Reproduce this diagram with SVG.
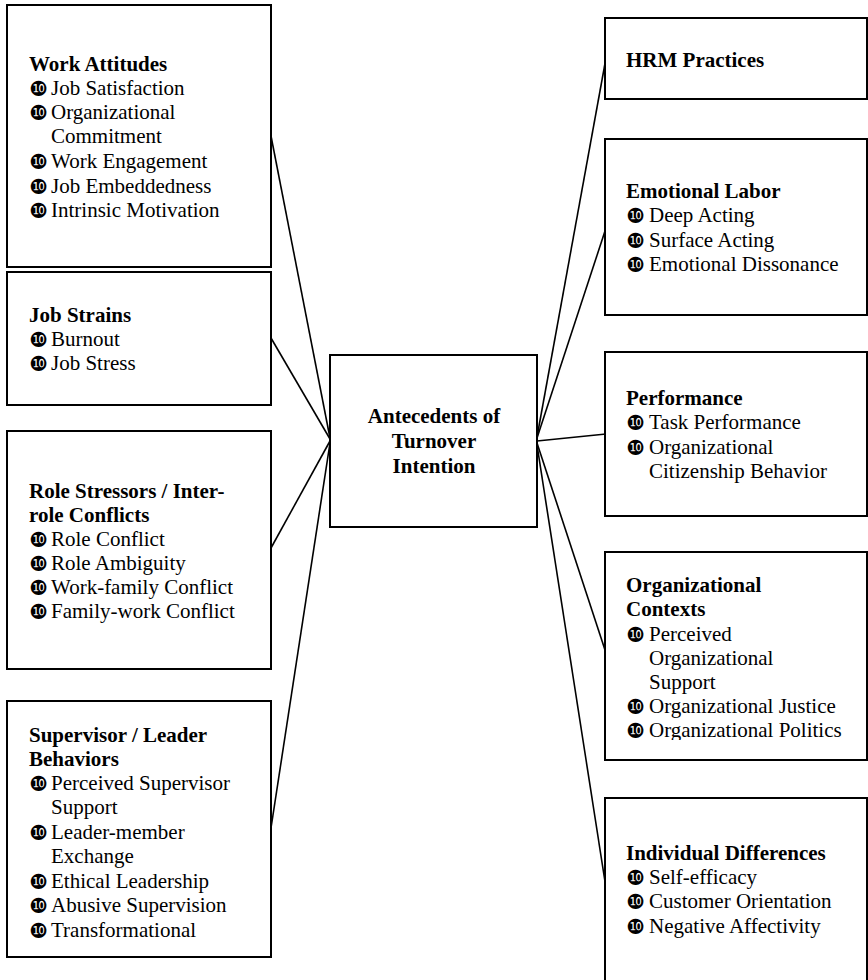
<svg xmlns="http://www.w3.org/2000/svg" width="868" height="980" viewBox="0 0 868 980">
<style>
.box{fill:#fff;stroke:#000;stroke-width:2}
.edge{stroke:#000;stroke-width:1.6;fill:none}
text{font-family:"Liberation Serif","Times New Roman",serif;font-size:21px;fill:#000}
.t{font-weight:bold}
.b{font-family:"DejaVu Sans",sans-serif;font-size:21px}
</style>
<defs>
<clipPath id="clipOC"><rect x="600" y="540" width="268" height="200"/></clipPath>
</defs>
<rect width="868" height="980" fill="#fff"/>
<g id="connectors">
<line class="edge" x1="271" y1="136" x2="330" y2="438"/>
<line class="edge" x1="271" y1="338" x2="330" y2="439"/>
<line class="edge" x1="271" y1="548" x2="330" y2="441"/>
<line class="edge" x1="271" y1="828" x2="330" y2="443"/>
<line class="edge" x1="606" y1="58" x2="537" y2="437"/>
<line class="edge" x1="606" y1="228" x2="537" y2="438"/>
<line class="edge" x1="606" y1="434" x2="537" y2="441"/>
<line class="edge" x1="606" y1="653" x2="537" y2="443"/>
<line class="edge" x1="606" y1="888" x2="537" y2="445"/>
</g>
<g id="center">
<rect class="box" x="330" y="355" width="207" height="172"/>
<text class="t" text-anchor="middle" x="434" y="423">Antecedents of</text>
<text class="t" text-anchor="middle" x="434" y="448">Turnover</text>
<text class="t" text-anchor="middle" x="434" y="473">Intention</text>
</g>
<g id="work-attitudes">
<rect class="box" x="7" y="5" width="264" height="262"/>
<text class="t" x="29" y="71">Work Attitudes</text>
<text class="b" x="29" y="96">❿</text><text x="51" y="95">Job Satisfaction</text>
<text class="b" x="29" y="120">❿</text><text x="51" y="119">Organizational</text>
<text x="51" y="143">Commitment</text>
<text class="b" x="29" y="169">❿</text><text x="51" y="168">Work Engagement</text>
<text class="b" x="29" y="194">❿</text><text x="51" y="193">Job Embeddedness</text>
<text class="b" x="29" y="218">❿</text><text x="51" y="217">Intrinsic Motivation</text>
</g>
<g id="job-strains">
<rect class="box" x="7" y="272" width="264" height="133"/>
<text class="t" x="29" y="322">Job Strains</text>
<text class="b" x="29" y="347">❿</text><text x="51" y="346">Burnout</text>
<text class="b" x="29" y="371">❿</text><text x="51" y="370">Job Stress</text>
</g>
<g id="role-stressors">
<rect class="box" x="7" y="431" width="264" height="238"/>
<text class="t" x="29" y="498">Role Stressors / Inter-</text>
<text class="t" x="29" y="522">role Conflicts</text>
<text class="b" x="29" y="547">❿</text><text x="51" y="546">Role Conflict</text>
<text class="b" x="29" y="571">❿</text><text x="51" y="570">Role Ambiguity</text>
<text class="b" x="29" y="595">❿</text><text x="51" y="594">Work-family Conflict</text>
<text class="b" x="29" y="619">❿</text><text x="51" y="618">Family-work Conflict</text>
</g>
<g id="supervisor-leader">
<rect class="box" x="7" y="701" width="264" height="256"/>
<text class="t" x="29" y="742">Supervisor / Leader</text>
<text class="t" x="29" y="766">Behaviors</text>
<text class="b" x="29" y="791">❿</text><text x="51" y="790">Perceived Supervisor</text>
<text x="51" y="814">Support</text>
<text class="b" x="29" y="840">❿</text><text x="51" y="839">Leader-member</text>
<text x="51" y="863">Exchange</text>
<text class="b" x="29" y="889">❿</text><text x="51" y="888">Ethical Leadership</text>
<text class="b" x="29" y="913">❿</text><text x="51" y="912">Abusive Supervision</text>
<text class="b" x="29" y="938">❿</text><text x="51" y="937">Transformational</text>
</g>
<g id="hrm-practices">
<rect class="box" x="605" y="18" width="262" height="81"/>
<text class="t" x="626" y="67">HRM Practices</text>
</g>
<g id="emotional-labor">
<rect class="box" x="605" y="139" width="262" height="176"/>
<text class="t" x="626" y="198">Emotional Labor</text>
<text class="b" x="626" y="223">❿</text><text x="649" y="222">Deep Acting</text>
<text class="b" x="626" y="248">❿</text><text x="649" y="247">Surface Acting</text>
<text class="b" x="626" y="272">❿</text><text x="649" y="271">Emotional Dissonance</text>
</g>
<g id="performance">
<rect class="box" x="605" y="352" width="262" height="164"/>
<text class="t" x="626" y="405">Performance</text>
<text class="b" x="626" y="430">❿</text><text x="649" y="429">Task Performance</text>
<text class="b" x="626" y="455">❿</text><text x="649" y="454">Organizational</text>
<text x="649" y="478">Citizenship Behavior</text>
</g>
<g id="organizational-contexts">
<rect class="box" x="605" y="552" width="262" height="208"/>
<g clip-path="url(#clipOC)">
<text class="t" x="626" y="592">Organizational</text>
<text class="t" x="626" y="616">Contexts</text>
<text class="b" x="626" y="642">❿</text><text x="649" y="641">Perceived</text>
<text x="649" y="665">Organizational</text>
<text x="649" y="689">Support</text>
<text class="b" x="626" y="714">❿</text><text x="649" y="713">Organizational Justice</text>
<text class="b" x="626" y="738">❿</text><text x="649" y="737">Organizational Politics</text>
</g>
</g>
<g id="individual-differences">
<rect class="box" x="605" y="798" width="262" height="200"/>
<text class="t" x="626" y="860">Individual Differences</text>
<text class="b" x="626" y="885">❿</text><text x="649" y="884">Self-efficacy</text>
<text class="b" x="626" y="909">❿</text><text x="649" y="908">Customer Orientation</text>
<text class="b" x="626" y="934">❿</text><text x="649" y="933">Negative Affectivity</text>
</g>
</svg>
